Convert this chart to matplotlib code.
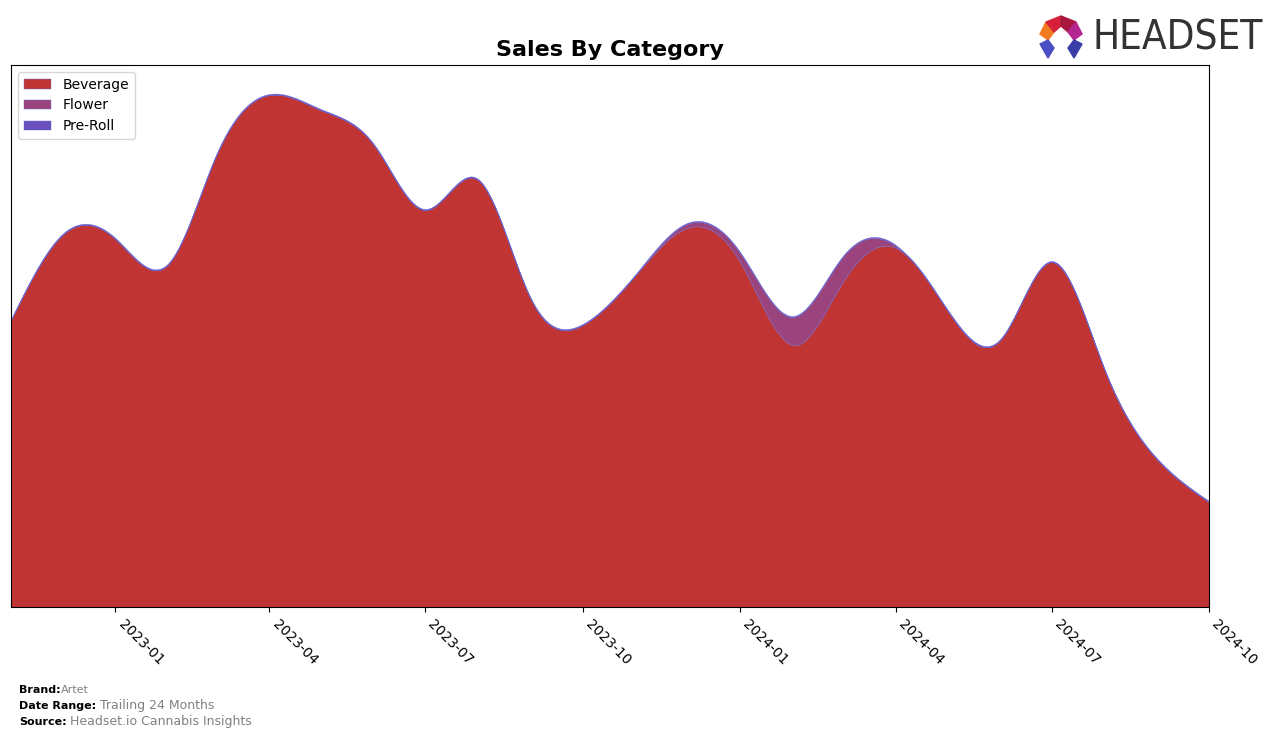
import numpy as np
import pandas as pd
import matplotlib; matplotlib.use('Agg')
import matplotlib.pyplot as plt
import matplotlib.dates as mdates
from matplotlib.patches import Polygon

months = pd.date_range('2022-11-01', '2024-10-01', freq='MS')
beverage = [287, 372, 368, 343, 452, 512, 497, 462, 397, 427, 307, 282,
            332, 379, 345, 262, 325, 359, 297, 267, 345, 237, 147, 105]
flower = [0, 0, 0, 0, 0, 0, 0, 0, 0, 0, 0, 0,
          0, 4, 9, 28, 25, 2, 0, 0, 0, 0, 0, 0]
preroll = [1, 1, 1, 1, 1, 1, 1, 1, 1, 1, 1, 1,
           1, 1, 1, 1, 1, 1, 1, 1, 1, 1, 1, 1]
labels = ['Beverage', 'Flower', 'Pre-Roll']
colors = ['#c13434', '#9b437c', '#6a4fc0']


def smooth(x, y, xs):
    # natural cubic spline, just for drawing the curve
    x = np.asarray(x, float); y = np.asarray(y, float)
    n = len(x); h = np.diff(x)
    A = np.zeros((n, n)); b = np.zeros(n)
    A[0, 0] = A[-1, -1] = 1
    for i in range(1, n - 1):
        A[i, i-1], A[i, i], A[i, i+1] = h[i-1], 2*(h[i-1]+h[i]), h[i]
        b[i] = 3*((y[i+1]-y[i])/h[i] - (y[i]-y[i-1])/h[i-1])
    c = np.linalg.solve(A, b)
    k = np.clip(np.searchsorted(x, xs) - 1, 0, n - 2)
    d = xs - x[k]
    bb = (y[k+1]-y[k])/h[k] - h[k]*(2*c[k]+c[k+1])/3
    dd = (c[k+1]-c[k])/(3*h[k])
    return y[k] + bb*d + c[k]*d**2 + dd*d**3


xn = mdates.date2num(months)
xs = np.linspace(xn[0], xn[-1], 600)
ys = [np.clip(smooth(xn, s, xs), 0, None) for s in (beverage, flower, preroll)]

fig = plt.figure(figsize=(12.76, 7.38), dpi=100)
ax = fig.add_axes([11/1276, 1-607/738, 1198/1276, 542/738])
ax.stackplot(mdates.num2date(xs), *ys, labels=labels, colors=colors,
             edgecolor='#6a6ad0', linewidth=0.3)
ax.set_xlim(months[0], months[-1])
ax.set_ylim(0, 542)
ax.set_yticks([])
ticks = [d for d in months if d.month in (1, 4, 7, 10)]
ax.set_xticks(ticks)
ax.set_xticklabels([d.strftime('%Y-%m') for d in ticks], rotation=-45, ha='left',
                   fontsize=10)
ax.legend(loc='upper left', fontsize=10)
fig.text(610/1276, 1-50/738, 'Sales By Category', ha='center', va='center',
         fontsize=16, fontweight='bold')

# footer
for i, (k, v) in enumerate([('Brand:', 'Artet'), ('Date Range:', 'Trailing 24 Months'),
                            ('Source:', 'Headset.io Cannabis Insights')]):
    y = 1 - (690 + 16*i)/738
    t = fig.text(19/1276, y, k, fontsize=8, fontweight='bold', va='center')
    fig.canvas.draw()
    bb = t.get_window_extent()
    fig.text(bb.x1/1276 + (0.0005 if i == 0 else 0.003), y, v,
             fontsize=8 if i == 0 else 9, color='#808080', va='center')

# logo
lx = fig.add_axes([1036/1276, 1-62/738, 50/1276, 50/738])
lx.set_xlim(0, 50); lx.set_ylim(0, 50); lx.axis('off')
lx.add_patch(Polygon([[4, 28], [10, 40], [18, 30], [12, 22]], color='#f07a1e'))
lx.add_patch(Polygon([[10, 40], [25, 46], [25, 36], [18, 30]], color='#d6203a'))
lx.add_patch(Polygon([[25, 46], [40, 40], [32, 30], [25, 36]], color='#a8183e'))
lx.add_patch(Polygon([[40, 40], [46, 28], [38, 22], [32, 30]], color='#b5258f'))
lx.add_patch(Polygon([[4, 18], [12, 22], [18, 14], [12, 4]], color='#4a4fc4'))
lx.add_patch(Polygon([[46, 18], [38, 22], [32, 14], [38, 4]], color='#3a3fa8'))
fig.text(1092/1276, 1-38/738, 'HEADSET', fontsize=29, color='#333333', va='center',
         family='DejaVu Sans', fontstretch='condensed')

fig.savefig('out.png', dpi=100)
